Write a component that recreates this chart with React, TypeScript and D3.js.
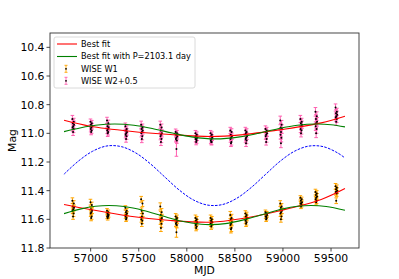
import React from 'react';
import * as d3 from 'd3';

const W = 399;
const H = 279;

// axis ticks
const xTicks = [57000, 57500, 58000, 58500, 59000, 59500];
const yTicks = [10.4, 10.6, 10.8, 11.0, 11.2, 11.4, 11.6, 11.8];

// observation epochs (MJD)
const epochs = [56818, 57006, 57178, 57369, 57533, 57732, 57892, 58098, 58255, 58460, 58617, 58826, 58980, 59189, 59346, 59555];

// WISE W2 + 0.5 magnitudes, per epoch
const w2Mags = [
  [10.90, 10.92, 10.93, 10.94, 10.95, 10.96, 10.97, 10.99],
  [10.92, 10.93, 10.94, 10.95, 10.96, 10.97, 10.98, 10.99],
  [10.91, 10.93, 10.95, 10.96, 10.97, 10.98, 10.99, 11.00],
  [10.95, 10.97, 10.98, 10.99, 11.00, 11.01, 11.02, 11.04],
  [10.94, 10.96, 10.97, 10.98, 10.99, 11.00, 11.02, 11.04],
  [10.94, 10.96, 10.98, 11.00, 11.01, 11.02, 11.04, 11.06],
  [10.99, 11.00, 11.01, 11.02, 11.03, 11.04, 11.05],
  [11.00, 11.01, 11.02, 11.03, 11.04, 11.04, 11.05, 11.06],
  [11.00, 11.01, 11.02, 11.03, 11.04, 11.05, 11.06, 11.06],
  [10.98, 10.99, 11.01, 11.02, 11.03, 11.04, 11.06, 11.07],
  [10.98, 10.99, 11.00, 11.02, 11.03, 11.04, 11.05, 11.07],
  [10.97, 10.98, 10.99, 11.00, 11.01, 11.02, 11.04, 11.06],
  [10.91, 10.94, 10.96, 10.97, 10.99, 11.01, 11.03, 11.07],
  [10.90, 10.92, 10.93, 10.94, 10.95, 10.97, 10.98, 11.00],
  [10.85, 10.88, 10.90, 10.92, 10.93, 10.95, 10.97, 11.00],
  [10.82, 10.85, 10.86, 10.87, 10.88, 10.89, 10.90, 10.92],
];
const w2Err = [0.025, 0.02, 0.022, 0.022, 0.025, 0.025, 0.02, 0.02, 0.02, 0.022, 0.022, 0.022, 0.03, 0.025, 0.03, 0.025];

// WISE W1 magnitudes, per epoch
const w1Mags = [
  [11.47, 11.49, 11.51, 11.52, 11.53, 11.54, 11.56, 11.58],
  [11.48, 11.50, 11.53, 11.54, 11.55, 11.56, 11.58, 11.59],
  [11.54, 11.55, 11.56, 11.57, 11.57, 11.58, 11.58, 11.59],
  [11.52, 11.54, 11.55, 11.56, 11.57, 11.58, 11.59, 11.60],
  [11.46, 11.49, 11.54, 11.56, 11.58, 11.60, 11.61, 11.63],
  [11.51, 11.55, 11.57, 11.59, 11.60, 11.61, 11.63, 11.66],
  [11.58, 11.59, 11.60, 11.61, 11.62, 11.63, 11.64],
  [11.59, 11.60, 11.61, 11.62, 11.63, 11.64, 11.65, 11.66],
  [11.59, 11.60, 11.61, 11.62, 11.62, 11.63, 11.64, 11.65],
  [11.57, 11.59, 11.60, 11.62, 11.63, 11.64, 11.66, 11.67],
  [11.56, 11.57, 11.58, 11.59, 11.60, 11.61, 11.62, 11.63],
  [11.55, 11.56, 11.56, 11.57, 11.58, 11.58, 11.59, 11.60],
  [11.49, 11.51, 11.52, 11.54, 11.55, 11.56, 11.58, 11.60],
  [11.45, 11.46, 11.47, 11.48, 11.49, 11.49, 11.50, 11.51],
  [11.41, 11.42, 11.43, 11.44, 11.45, 11.46, 11.47, 11.48],
  [11.37, 11.38, 11.39, 11.40, 11.41, 11.41, 11.42, 11.47],
];
const w1Err = [0.02, 0.02, 0.015, 0.015, 0.02, 0.025, 0.02, 0.02, 0.02, 0.025, 0.02, 0.015, 0.02, 0.015, 0.02, 0.02];

// outlying measurements [mjd, mag, err]
const w2Outliers = [[57892, 11.11, 0.05]];
const w1Outliers = [[57892, 11.69, 0.035]];

// day offsets of the visits inside one epoch
const visitOffsets = [-8, 6, -3, 9, 0, -6, 4, -1];

// best-fit curves [mjd, mag]
const redTop = [[56723, 10.909], [56993, 10.95], [57411, 10.985], [57829, 11.008], [58248, 11.022], [58562, 11.011], [58980, 10.974], [59398, 10.927], [59645, 10.881]];
const redBottom = [[56723, 11.496], [56993, 11.531], [57411, 11.578], [57829, 11.608], [58248, 11.62], [58562, 11.596], [58980, 11.538], [59398, 11.461], [59645, 11.385]];
const greenTop = [[56723, 10.988], [56900, 10.961], [57050, 10.944], [57250, 10.935], [57450, 10.944], [57650, 10.968], [57850, 10.998], [58050, 11.025], [58300, 11.039], [58550, 11.025], [58750, 10.999], [58950, 10.968], [59150, 10.944], [59350, 10.935], [59500, 10.94], [59645, 10.955]];
const greenBottom = [[56723, 11.56], [56900, 11.527], [57050, 11.509], [57190, 11.503], [57350, 11.511], [57550, 11.538], [57750, 11.577], [57950, 11.613], [58150, 11.634], [58240, 11.637], [58400, 11.63], [58600, 11.602], [58800, 11.564], [59000, 11.527], [59150, 11.509], [59293, 11.503], [59450, 11.51], [59645, 11.537]];
const blueCurve = [[56723, 11.285], [56870, 11.195], [57020, 11.125], [57170, 11.088], [57320, 11.093], [57470, 11.137], [57620, 11.212], [57770, 11.304], [57920, 11.395], [58070, 11.465], [58220, 11.501], [58370, 11.497], [58520, 11.453], [58670, 11.378], [58820, 11.286], [58970, 11.195], [59120, 11.125], [59270, 11.089], [59420, 11.093], [59570, 11.137], [59645, 11.172]];

const legendItems = ['Best fit', 'Best fit with P=2103.1 day', 'WISE W1', 'WISE W2+0.5'];

const FONT = 'DejaVu Sans, sans-serif';
const left = 50, right = 359, top = 33, bottom = 248;

export default function App() {
  const x = d3.scaleLinear().domain([56577, 59791]).range([left, right]);
  const y = d3.scaleLinear().domain([10.3, 11.8]).range([top, bottom]);
  const line = d3.line<number[]>().x(d => x(d[0])).y(d => y(d[1])).curve(d3.curveCatmullRom.alpha(0.5));

  const pts = (mags: number[][], errs: number[], outl: number[][]) => {
    const out: { t: number; m: number; e: number }[] = [];
    mags.forEach((row, i) => row.forEach((m, j) => out.push({ t: epochs[i] + visitOffsets[j], m, e: errs[i] })));
    outl.forEach(o => out.push({ t: o[0], m: o[1], e: o[2] }));
    return out;
  };
  const w1 = pts(w1Mags, w1Err, w1Outliers);
  const w2 = pts(w2Mags, w2Err, w2Outliers);

  const errBars = (data: { t: number; m: number; e: number }[], color: string) => (
    <g stroke={color} strokeWidth={1}>
      {data.map((p, i) => {
        const cx = x(p.t), y0 = y(p.m - p.e), y1 = y(p.m + p.e);
        return (
          <g key={i}>
            <line x1={cx} x2={cx} y1={y0} y2={y1} />
            <line x1={cx - 1.8} x2={cx + 1.8} y1={y0} y2={y0} />
            <line x1={cx - 1.8} x2={cx + 1.8} y1={y1} y2={y1} />
          </g>
        );
      })}
    </g>
  );
  const dots = (data: { t: number; m: number; e: number }[]) => (
    <g fill="#000">
      {data.map((p, i) => <circle key={i} cx={x(p.t)} cy={y(p.m)} r={1} />)}
    </g>
  );

  const legY = [44, 56.5, 68.8, 80.8];

  return (
    <svg width={W} height={H} style={{ position: 'absolute', left: 0, top: 0, background: '#fff' }} fontFamily={FONT}>
      <rect x={0} y={0} width={W} height={H} fill="#fff" />
      <path d={line(blueCurve) || ''} fill="none" stroke="#0000ff" strokeWidth={1} strokeDasharray="2.6,1.3" />
      {errBars(w2, '#ff5fb0')}
      {errBars(w1, '#ffa500')}
      {dots(w2)}
      {dots(w1)}
      <path d={line(redTop) || ''} fill="none" stroke="#ff0000" strokeWidth={1.1} />
      <path d={line(redBottom) || ''} fill="none" stroke="#ff0000" strokeWidth={1.1} />
      <path d={line(greenTop) || ''} fill="none" stroke="#008000" strokeWidth={1.1} />
      <path d={line(greenBottom) || ''} fill="none" stroke="#008000" strokeWidth={1.1} />

      <rect x={left} y={top} width={right - left} height={bottom - top} fill="none" stroke="#333" strokeWidth={0.9} />

      {xTicks.map(t => (
        <g key={t}>
          <line x1={x(t)} x2={x(t)} y1={bottom} y2={bottom + 3.5} stroke="#333" strokeWidth={0.9} />
          <text x={x(t)} y={261.5} fontSize={10.8} textAnchor="middle" fill="#000">{t}</text>
        </g>
      ))}
      {yTicks.map(t => (
        <g key={t}>
          <line x1={left - 3.5} x2={left} y1={y(t)} y2={y(t)} stroke="#333" strokeWidth={0.9} />
          <text x={left - 5.5} y={y(t)} dy="0.36em" fontSize={10.8} textAnchor="end" fill="#000">{t.toFixed(1)}</text>
        </g>
      ))}
      <text x={(left + right) / 2} y={273.5} fontSize={10.8} textAnchor="middle" fill="#000">MJD</text>
      <text transform={`translate(16,${(top + bottom) / 2}) rotate(-90)`} fontSize={10.8} textAnchor="middle" fill="#000">Mag</text>

      <rect x={54} y={37} width={141} height={51} rx={2} fill="#fff" fillOpacity={0.8} stroke="#d0d0d0" strokeWidth={0.8} />
      <line x1={57} x2={77} y1={legY[0]} y2={legY[0]} stroke="#ff0000" strokeWidth={1.1} />
      <line x1={57} x2={77} y1={legY[1]} y2={legY[1]} stroke="#008000" strokeWidth={1.1} />
      {[['#ffa500', legY[2]], ['#ff5fb0', legY[3]]].map(([c, ly], i) => (
        <g key={i} stroke={c as string} strokeWidth={0.9}>
          <line x1={66} x2={66} y1={(ly as number) - 3.5} y2={(ly as number) + 3.5} />
          <line x1={64.5} x2={67.5} y1={(ly as number) - 3.5} y2={(ly as number) - 3.5} />
          <line x1={64.5} x2={67.5} y1={(ly as number) + 3.5} y2={(ly as number) + 3.5} />
          <circle cx={66} cy={ly as number} r={0.9} fill="#000" stroke="none" />
        </g>
      ))}
      {legendItems.map((s, i) => (
        <text key={s} x={81} y={legY[i]} dy="0.36em" fontSize={8.2} fill="#000">{s}</text>
      ))}
    </svg>
  );
}
